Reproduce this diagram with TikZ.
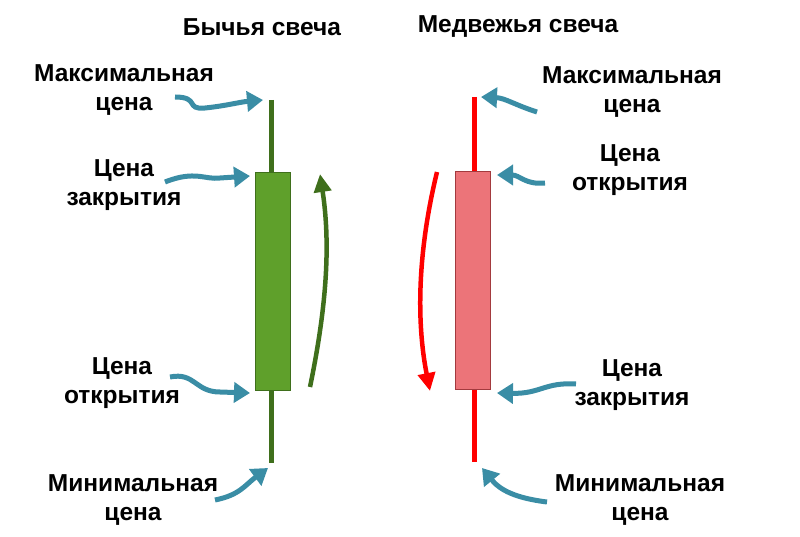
\documentclass[tikz,border=0pt]{standalone}
\usepackage{fontspec}
\setmainfont{Liberation Sans}
\usetikzlibrary{arrows.meta}
\definecolor{gcan}{HTML}{5FA02B}
\definecolor{gdark}{HTML}{3F6F1C}
\definecolor{rcan}{HTML}{EC7479}
\definecolor{rdark}{HTML}{A33A3E}
\definecolor{blu}{HTML}{3A8DA5}
\begin{document}
\begin{tikzpicture}[x=1pt,y=-1pt,
 lab/.style={font=\bfseries\fontsize{24.5}{29}\selectfont,align=center,inner sep=0},
 ptr/.style={blu,line width=5pt,-{Triangle[length=16pt,width=20pt]}},
 bigarr/.style={line width=4.5pt,-{Triangle[length=18pt,width=17pt]}}]
\useasboundingbox (0,0) rectangle (800,537);
\node[lab] (t1) at (262,27) {Бычья свеча};
\node[lab] (t2) at (518,27) {Медвежья свеча};
% green candle
\coordinate (gh) at (271,100); \coordinate (gl) at (271,463);
\draw[gdark,line width=5pt] (gh) -- (gl);
\node[draw=gdark,fill=gcan,line width=1pt,minimum width=35pt,minimum height=217pt,inner sep=0] (gb) at (272.5,281.5) {};
\coordinate (ga1) at (310,387); \coordinate (ga2) at (320,174);
\draw[gdark,bigarr] (ga1) .. controls (328,300) and (330,240) .. (ga2);
% red candle
\coordinate (rh) at (474,97); \coordinate (rl) at (474,462);
\draw[red,line width=5pt] (rh) -- (rl);
\node[draw=rdark,fill=rcan,line width=1pt,minimum width=35pt,minimum height=217pt,inner sep=0] (rb) at (472.5,280.5) {};
\coordinate (ra1) at (437,172); \coordinate (ra2) at (430,391);
\draw[red,bigarr] (ra1) .. controls (418,250) and (416,320) .. (ra2);
% labels
\node[lab] (l1) at (124,90) {Максимальная\\цена};
\node[lab] (l2) at (124,185) {Цена\\закрытия};
\node[lab] (l3) at (122,383) {Цена\\открытия};
\node[lab] (l4) at (133,500) {Минимальная\\цена};
\node[lab] (r1) at (632,92) {Максимальная\\цена};
\node[lab] (r2) at (630,170) {Цена\\открытия};
\node[lab] (r3) at (632,385) {Цена\\закрытия};
\node[lab] (r4) at (640,500) {Минимальная\\цена};
\draw[ptr] (175,97) .. controls (200,97) and (185,110) .. (205,108) .. controls (225,106) and (240,102) .. (263,100);
\draw[ptr] (165,182) .. controls (195,170) and (205,180) .. (220,178) -- (250,176);
\draw[ptr] (170,377) .. controls (195,372) and (195,392) .. (220,392) -- (250,393);
\draw[ptr] (215,500) .. controls (240,495) and (245,485) .. (268,468);
\draw[ptr] (537,112) .. controls (515,105) and (505,98) .. (481,97);
\draw[ptr] (545,183) .. controls (525,185) and (520,175) .. (497,175);
\draw[ptr] (576,384) .. controls (545,382) and (540,394) .. (497,393);
\draw[ptr] (547,502) .. controls (515,498) and (500,490) .. (482,468);
\end{tikzpicture}
\end{document}
